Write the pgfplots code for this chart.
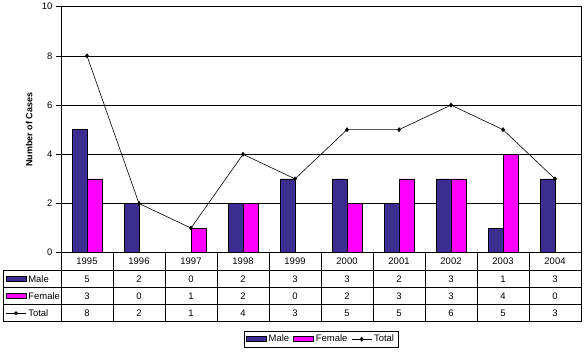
\documentclass[border=0pt]{standalone}
\usepackage{pgfplots}
\pgfplotsset{compat=1.18}
\usepackage{fontspec}
\setmainfont{Liberation Sans}
\definecolor{male}{RGB}{60,45,145}
\definecolor{female}{RGB}{255,0,255}
\newcommand{\tfont}{\fontsize{9.5}{11}\selectfont}
\pgfplotsset{
  barlegend/.style={legend image code/.code={\draw[##1] (0bp,-2.5bp) rectangle (20bp,2.5bp);}},
  linelegend/.style={legend image code/.code={\draw[mark repeat=2,mark phase=2,##1] plot coordinates {(0bp,0bp)(10bp,0bp)(20bp,0bp)};}},
}
\begin{document}
\begin{tikzpicture}
\begin{axis}[
  scale only axis, width=520bp, height=246bp,
  xmin=-0.5, xmax=9.5, ymin=0, ymax=10,
  ytick={0,2,...,10}, xtick=\empty,
  ytick pos=left, tick align=outside, major tick length=5bp,
  ymajorgrids, grid style={black, line width=0.7bp},
  axis line style={black, line width=0.7bp},
  every tick/.style={black, line width=0.7bp},
  tick label style={font=\tfont},
  /pgf/number format/assume math mode=true,
  ylabel={\bfseries Number of Cases},
  ylabel style={font=\fontsize{9}{10}\selectfont, at={(rel axis cs:0,0.5)}, yshift=25bp, anchor=south},
  clip=false,
  legend style={at={(0.5,-0.317)}, anchor=north, legend columns=3, draw=black, line width=0.7bp,
    font=\tfont, inner sep=2bp, row sep=0bp,
    /tikz/every even column/.append style={column sep=2bp}},
]
\addplot[ybar, bar width=15bp, bar shift=-7.5bp, fill=male, draw=black, line width=0.7bp, barlegend]
  coordinates {(0,5)(1,2)(2,0)(3,2)(4,3)(5,3)(6,2)(7,3)(8,1)(9,3)};
\addlegendentry{Male}
\addplot[ybar, bar width=15bp, bar shift=7.5bp, fill=female, draw=black, line width=0.7bp, barlegend]
  coordinates {(0,3)(1,0)(2,1)(3,2)(4,0)(5,2)(6,3)(7,3)(8,4)(9,0)};
\addlegendentry{Female}
\addplot[black, line width=0.6bp, mark=diamond*, mark size=2bp, linelegend]
  coordinates {(0,8)(1,2)(2,1)(3,4)(4,3)(5,5)(6,5)(7,6)(8,5)(9,3)};
\addlegendentry{Total}
\coordinate (ll) at (rel axis cs:0,0);
\end{axis}
\begin{scope}[shift={(ll)}, x=1bp, y=1bp, line width=0.7bp]
  \foreach \k in {0,...,10} \draw (52*\k,0) -- (52*\k,-69);
  \draw (-58,-18) -- (-58,-69);
  \foreach \yy in {-18,-35,-52,-69} \draw (-58,\yy) -- (520,\yy);
  \foreach \yr [count=\i from 0] in {1995,1996,1997,1998,1999,2000,2001,2002,2003,2004}
    \node[font=\tfont] at (52*\i+26,-9) {\yr};
  \foreach \v [count=\i from 0] in {5,2,0,2,3,3,2,3,1,3}
    \node[font=\tfont] at (52*\i+26,-26.5) {\v};
  \foreach \v [count=\i from 0] in {3,0,1,2,0,2,3,3,4,0}
    \node[font=\tfont] at (52*\i+26,-43.5) {\v};
  \foreach \v [count=\i from 0] in {8,2,1,4,3,5,5,6,5,3}
    \node[font=\tfont] at (52*\i+26,-60.5) {\v};
  \draw[fill=male] (-55,-29) rectangle (-35,-24);
  \node[font=\tfont, anchor=west, inner sep=0pt] at (-33,-26.5) {Male};
  \draw[fill=female] (-55,-46) rectangle (-35,-41);
  \node[font=\tfont, anchor=west, inner sep=0pt] at (-33,-43.5) {Female};
  \draw[line width=0.6bp] (-55,-60.5) -- (-35,-60.5);
  \fill (-45,-60.5) +(-2,0) -- +(0,2) -- +(2,0) -- +(0,-2) -- cycle;
  \node[font=\tfont, anchor=west, inner sep=0pt] at (-33,-60.5) {Total};
  \path (-61,-101) rectangle (525,251);
\end{scope}
\end{tikzpicture}
\end{document}
